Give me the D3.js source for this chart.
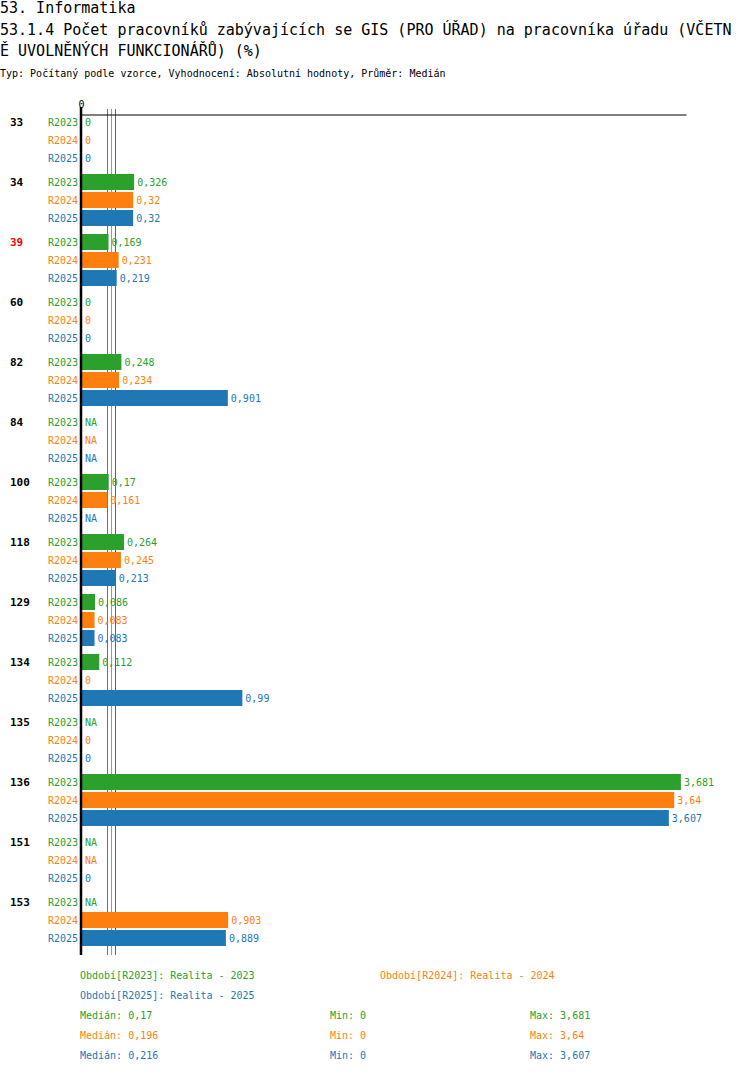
<!DOCTYPE html>
<html>
<head>
<meta charset="utf-8">
<script src="https://cdn.jsdelivr.net/npm/d3@7"></script>
<style>
  body { margin: 0; background: #fff; }
  text { font-family: "DejaVu Sans Mono", monospace; }
</style>
</head>
<body>
<svg id="chart" width="750" height="1074"></svg>
<script>
// chart data
const categories = ['33', '34', '39', '60', '82', '84', '100', '118', '129', '134', '135', '136', '151', '153'];
const highlighted = ['39'];
const series = ['R2023', 'R2024', 'R2025'];
const seriesNames = ['Realita - 2023', 'Realita - 2024', 'Realita - 2025'];
const colors = ['#2ca02c', '#ff7f0e', '#1f77b4'];
const r2023 = [0, 0.326, 0.169, 0, 0.248, null, 0.17, 0.264, 0.086, 0.112, null, 3.681, null, null];
const r2024 = [0, 0.32, 0.231, 0, 0.234, null, 0.161, 0.245, 0.083, 0, 0, 3.64, null, 0.903];
const r2025 = [0, 0.32, 0.219, 0, 0.901, null, null, 0.213, 0.083, 0.99, 0, 3.607, 0, 0.889];
const medians = [0.17, 0.196, 0.216];
const mins = [0, 0, 0];
const maxs = [3.681, 3.64, 3.607];
const tickValues = [0];

const titleLines = [
  '53. Informatika',
  '53.1.4 Počet pracovníků zabývajících se GIS (PRO ÚŘAD) na pracovníka úřadu (VČETN',
  'Ě UVOLNĚNÝCH FUNKCIONÁŘŮ) (%)'
];
const subtitle = 'Typ: Počítaný podle vzorce, Vyhodnocení: Absolutní hodnoty, Průměr: Medián';

const values = [r2023, r2024, r2025];
const fmt = v => v === null ? 'NA' : String(v).replace('.', ',');

const svg = d3.select('#chart');

// titles
svg.selectAll('text.title')
  .data(titleLines)
  .enter().append('text')
  .attr('class', 'title')
  .attr('x', 0)
  .attr('y', (d, i) => 13 + i * 21.5)
  .attr('font-size', 15)
  .attr('fill', '#000')
  .text(d => d);

svg.append('text')
  .attr('x', 0).attr('y', 77)
  .attr('font-size', 10)
  .text(subtitle);

// scales
const x0 = 81;
const xMax = d3.max(maxs) * 1.0085;
const x = d3.scaleLinear().domain([0, xMax]).range([x0, 686]);

const groupTop = 113;
const groupStep = 60;
const y = d3.scaleBand()
  .domain(categories)
  .range([groupTop, groupTop + groupStep * categories.length]);
const ySub = d3.scaleBand()
  .domain(series)
  .range([0, 54]);

const axisBottomY = 955;

// median lines
svg.selectAll('line.median')
  .data(medians)
  .enter().append('line')
  .attr('x1', d => Math.floor(x(d)) - 0.5)
  .attr('x2', d => Math.floor(x(d)) - 0.5)
  .attr('y1', 109)
  .attr('y2', axisBottomY)
  .attr('stroke', (d, i) => colors[i])
  .attr('stroke-width', 1);

// top axis
const axis = d3.axisTop(x).tickValues(tickValues).tickSize(0).tickSizeOuter(0).tickFormat(d => fmt(d));
const axisG = svg.append('g')
  .attr('transform', 'translate(0,114.5)')
  .call(axis);
axisG.select('.domain').attr('stroke', '#000').attr('stroke-width', 1);
axisG.selectAll('.tick text')
  .attr('font-family', '"DejaVu Sans Mono", monospace')
  .attr('font-size', 10)
  .attr('dy', -4)
  .attr('fill', '#000');

// groups
const groups = svg.selectAll('g.group')
  .data(categories)
  .enter().append('g')
  .attr('class', 'group')
  .attr('transform', d => `translate(0,${y(d)})`);

groups.append('text')
  .attr('x', 10)
  .attr('y', ySub('R2023') + ySub.bandwidth() / 2)
  .attr('dy', '0.35em')
  .attr('font-size', 11)
  .attr('font-weight', 'bold')
  .attr('fill', d => highlighted.includes(d) ? '#ff0000' : '#000')
  .text(d => d);

groups.each(function (cat, ci) {
  const g = d3.select(this);
  series.forEach((s, si) => {
    const v = values[si][ci];
    const cy = ySub(s) + ySub.bandwidth() / 2;
    g.append('text')
      .attr('x', 78)
      .attr('y', cy)
      .attr('dy', '0.35em')
      .attr('text-anchor', 'end')
      .attr('font-size', 10)
      .attr('fill', colors[si])
      .text(s);
    let end = x0 + 1;
    if (v !== null && v > 0) {
      g.append('rect')
        .attr('x', x0 + 1)
        .attr('y', cy - 8)
        .attr('width', x(v) - x0 - 1)
        .attr('height', 16)
        .attr('fill', colors[si]);
      end = x(v);
    }
    g.append('text')
      .attr('x', end + 3)
      .attr('y', cy)
      .attr('dy', '0.35em')
      .attr('font-size', 10)
      .attr('fill', colors[si])
      .text(fmt(v));
  });
});

// vertical zero axis
svg.append('line')
  .attr('x1', 81).attr('x2', 81)
  .attr('y1', 107).attr('y2', axisBottomY)
  .attr('stroke', '#000')
  .attr('stroke-width', 2.5);

// legend
const legendPos = [[80, 979], [380, 979], [80, 999]];
svg.selectAll('text.legend')
  .data(series)
  .enter().append('text')
  .attr('class', 'legend')
  .attr('x', (d, i) => legendPos[i][0])
  .attr('y', (d, i) => legendPos[i][1])
  .attr('font-size', 10)
  .attr('fill', (d, i) => colors[i])
  .text((d, i) => `Období[${d}]: ${seriesNames[i]}`);

const statsY = [1019, 1039, 1059];
series.forEach((s, i) => {
  svg.append('text').attr('x', 80).attr('y', statsY[i]).attr('font-size', 10)
    .attr('fill', colors[i]).text('Medián: ' + fmt(medians[i]));
  svg.append('text').attr('x', 330).attr('y', statsY[i]).attr('font-size', 10)
    .attr('fill', colors[i]).text('Min: ' + fmt(mins[i]));
  svg.append('text').attr('x', 530).attr('y', statsY[i]).attr('font-size', 10)
    .attr('fill', colors[i]).text('Max: ' + fmt(maxs[i]));
});
</script>
</body>
</html>
